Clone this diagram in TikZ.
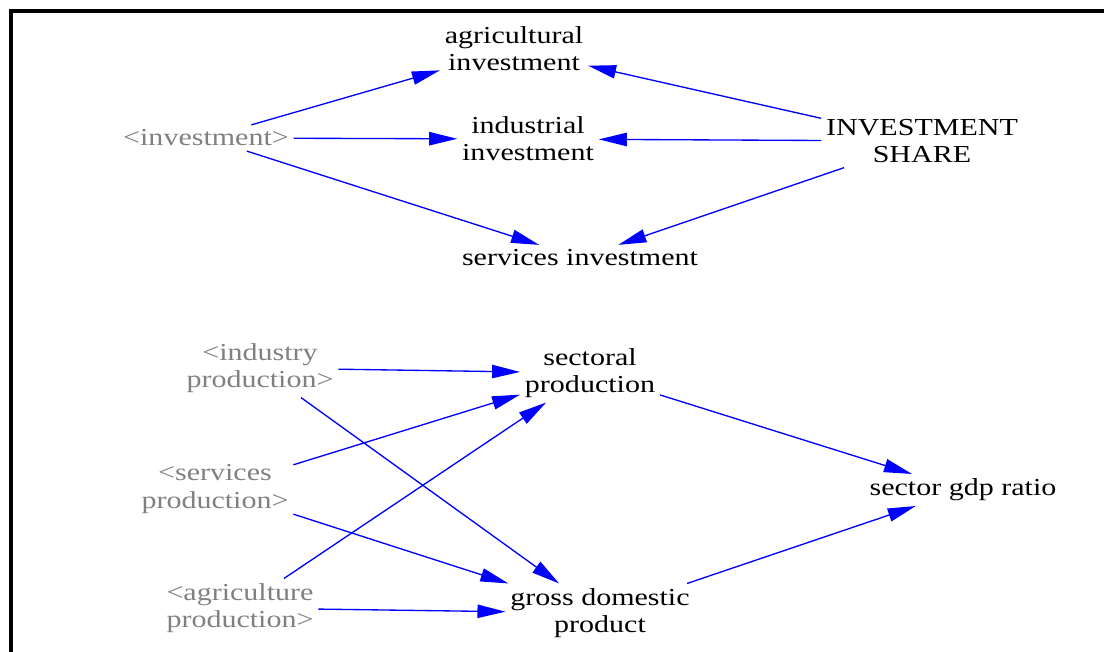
\documentclass[tikz,border=0pt]{standalone}
\usepackage{fontspec}
\setmainfont{Liberation Serif}[FakeStretch=1.23]
\usetikzlibrary{arrows.meta}
\definecolor{linkblue}{RGB}{0,0,255}
\definecolor{shadowgray}{RGB}{128,128,128}
\tikzset{
  var/.style={align=center, inner sep=3.5pt, text=black,
    font=\fontsize{18.3}{20.3}\selectfont},
  shadow/.style={var, text=shadowgray},
  link/.style={draw=linkblue, line width=1pt,
    -{Triangle[length=21pt,width=10pt]}, fill=none},
  frame/.style={line width=3pt, black}
}
\begin{document}
\begin{tikzpicture}[x=0.75pt, y=-0.75pt]
\useasboundingbox (0,0) rectangle (1104,652);
% window frame (left and top edges)
\draw[frame] (11,652) -- (11,11) -- (1104,11);

% investment sub-model
\node[var] (agri) at (514,49) {agricultural\\investment};
\node[var] (ind) at (528,139) {industrial\\investment};
\node[var] (serv) at (580,258) {services investment};
\node[shadow] (inv) at (206,138) {<investment>};
\node[var] (share) at (922,141) {INVESTMENT\\SHARE};

% production sub-model
\node[shadow] (indp) at (260,368) {<industry\\production>};
\node[shadow] (servp) at (215,489) {<services\\production>};
\node[shadow] (agrip) at (240,608) {<agriculture\\production>};
\node[var] (sect) at (590,373) {sectoral\\production};
\node[var] (gdp) at (600,613) {gross domestic\\product};
\node[var] (ratio) at (963,490) {sector gdp ratio};

% causal links
\draw[link] (inv) -- (agri);
\draw[link] (inv) -- (ind);
\draw[link] (inv) -- (serv);
\draw[link] (share) -- (agri);
\draw[link] (share) -- (ind);
\draw[link] (share) -- (serv);

\draw[link] (indp) -- (sect);
\draw[link] (indp) -- (gdp);
\draw[link] (servp) -- (sect);
\draw[link] (servp) -- (gdp);
\draw[link] (agrip) -- (sect);
\draw[link] (agrip) -- (gdp);
\draw[link] (sect) -- (ratio);
\draw[link] (gdp) -- (ratio);
\end{tikzpicture}
\end{document}
